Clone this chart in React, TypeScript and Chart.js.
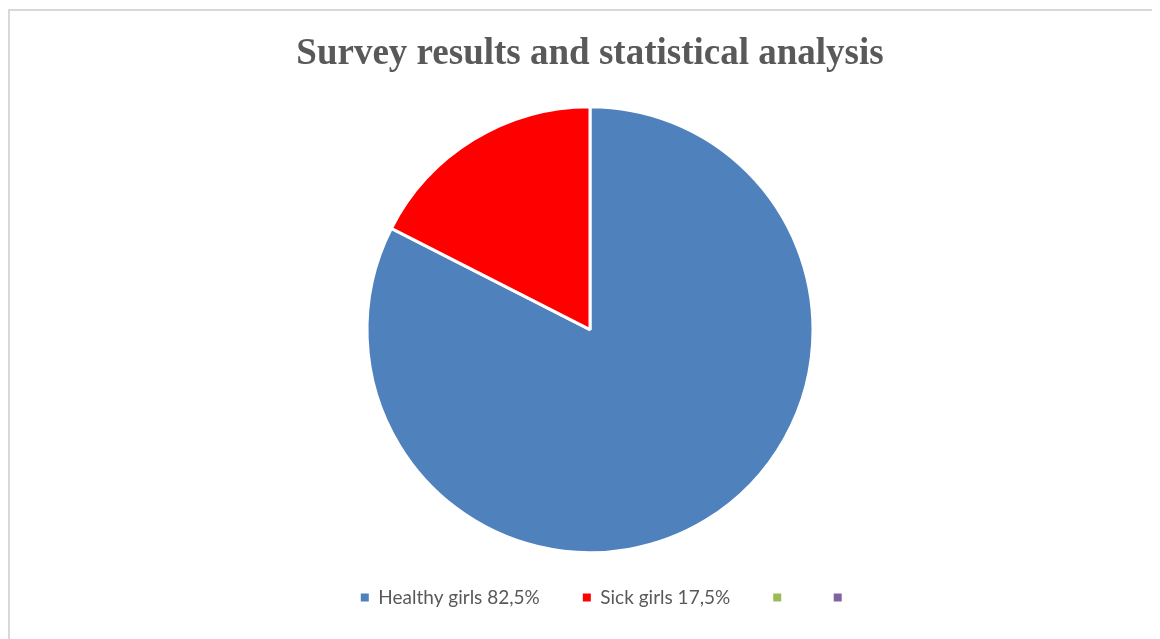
import React, { useEffect, useRef } from "react";
import { Chart, registerables } from "chart.js";

Chart.register(...registerables);

const categories = ["Healthy girls 82,5%", "Sick girls 17,5%", "", ""];
const values = [82.5, 17.5, 0, 0];
const colors = ["#4F81BD", "#FF0000", "#9BBB59", "#8064A2"];
const titleText = "Survey results and statistical analysis";

const legendShift = {
  id: "legendShift",
  afterLayout(chart: any) {
    const l = chart.legend;
    if (l) {
      l.left += 16;
      l.right += 16;
    }
  },
};

export default function App() {
  const ref = useRef<HTMLCanvasElement | null>(null);
  useEffect(() => {
    document.body.style.overflow = "hidden";
    const ctx = ref.current!;
    const chart = new Chart(ctx, {
      type: "pie",
      data: {
        labels: categories,
        datasets: [
          {
            data: values,
            backgroundColor: colors,
            borderColor: "#FFFFFF",
            borderWidth: 3,
            radius: 223,
          },
        ],
      },
      plugins: [legendShift],
      options: {
        animation: false,
        responsive: false,
        maintainAspectRatio: false,
        layout: { padding: { top: 0, bottom: 22, left: 0, right: 0 } },
        plugins: {
          title: {
            display: true,
            text: titleText,
            color: "#595959",
            font: { family: "'Liberation Serif', 'Times New Roman', serif", size: 37, weight: "bold" },
            padding: { top: 21, bottom: 38 },
          },
          legend: {
            display: true,
            position: "bottom",
            labels: {
              boxWidth: 8,
              boxHeight: 8,
              padding: 43,
              color: "#595959",
              font: { family: "Lato, 'Open Sans', sans-serif", size: 19 },
              generateLabels(chart: any) {
                const items = Chart.overrides.pie.plugins.legend.labels.generateLabels(chart);
                return items.map((it: any) => ({ ...it, lineWidth: 0, strokeStyle: "rgba(0,0,0,0)" }));
              },
            },
          },
          tooltip: { enabled: false },
        },
      },
    });
    return () => chart.destroy();
  }, []);
  return (
    <div style={{ position: "relative", width: 1152, height: 631, overflow: "hidden" }}>
      <div
        style={{
          position: "absolute",
          left: 0,
          top: 1,
          width: 1200,
          height: 700,
          borderLeft: "2px solid #D9D9D9",
          borderTop: "2px solid #D9D9D9",
          boxSizing: "border-box",
        }}
      />
      <canvas
        ref={ref}
        width={1160}
        height={628}
        style={{ position: "absolute", left: 2, top: 3, width: 1160, height: 628 }}
      />
    </div>
  );
}
